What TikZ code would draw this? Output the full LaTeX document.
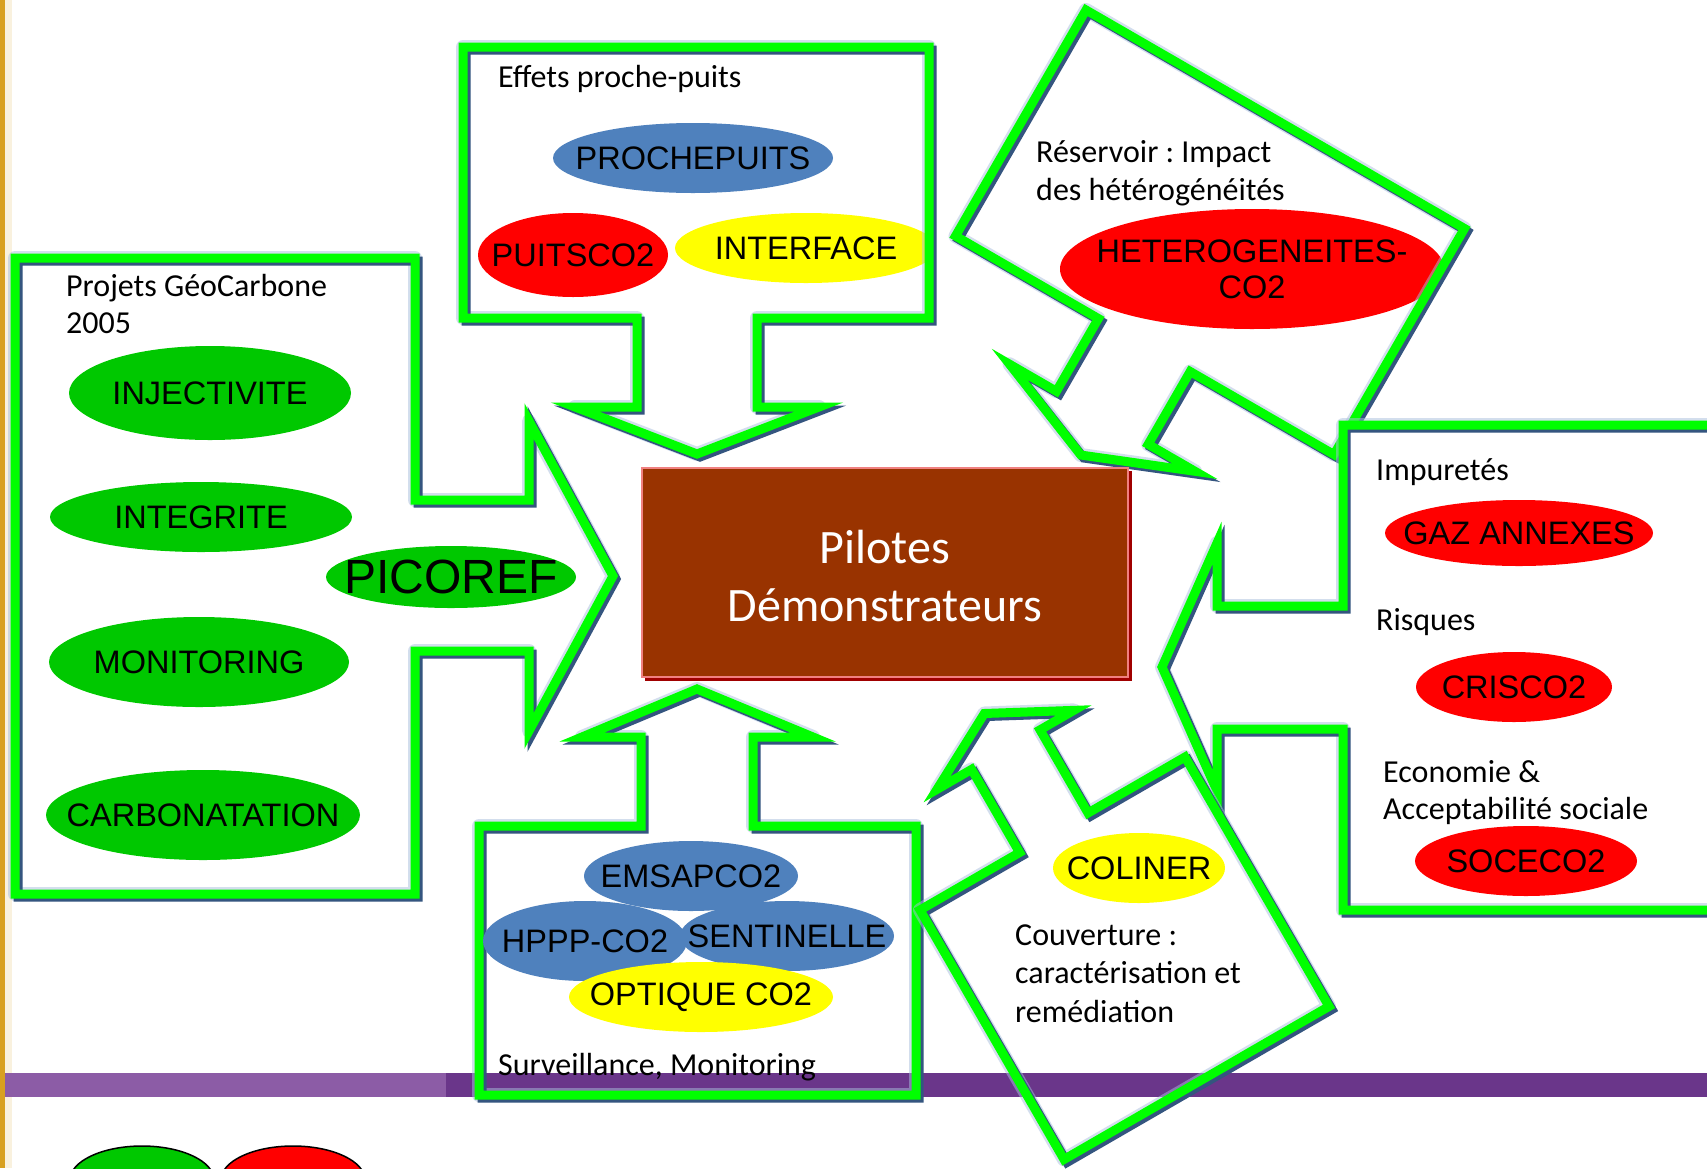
\documentclass[tikz,border=0pt]{standalone}
\usepackage{fontspec}
\setmainfont{Carlito}
\newfontfamily\arialf{Liberation Sans}
\usetikzlibrary{shapes.geometric}
\frenchspacing
\definecolor{gline}{HTML}{00FF00}
\definecolor{gshadow}{HTML}{34557F}
\definecolor{gglow}{HTML}{A9BFDD}
\definecolor{pgreen}{HTML}{00C800}
\definecolor{pred}{HTML}{FF0000}
\definecolor{pyellow}{HTML}{FFFF00}
\definecolor{pblue}{HTML}{4F81BD}
\definecolor{boxfill}{HTML}{993300}
\definecolor{boxlight}{HTML}{F08080}
\definecolor{boxdark}{HTML}{A00000}
\definecolor{goldbar}{HTML}{D8A020}
\definecolor{purpleA}{HTML}{8C5CA6}
\definecolor{purpleB}{HTML}{6A368A}

\newcommand{\LAPath}{(la1)--(la2)--(la3)--(la4)--(la5)--(la6)--(la7)--(la8)--(la9)--(la10)--(la11)--cycle}
\newcommand{\TAPath}{(ta1)--(ta2)--(ta3)--(ta4)--(ta5)--(ta6)--(ta7)--(ta8)--(ta9)--(ta10)--(ta11)--cycle}
\newcommand{\RAPath}{(ra1)--(ra2)--(ra3)--(ra4)--(ra5)--(ra6)--(ra7)--(ra8)--(ra9)--(ra10)--(ra11)--cycle}
\newcommand{\IAPath}{(ia1)--(ia2)--(ia3)--(ia4)--(ia5)--(ia6)--(ia7)--(ia8)--(ia9)--(ia10)--(ia11)--cycle}
\newcommand{\BAPath}{(ba1)--(ba2)--(ba3)--(ba4)--(ba5)--(ba6)--(ba7)--(ba8)--(ba9)--(ba10)--(ba11)--cycle}
\newcommand{\CAPath}{(ca1)--(ca2)--(ca3)--(ca4)--(ca5)--(ca6)--(ca7)--(ca8)--(ca9)--(ca10)--(ca11)--cycle}

\newcommand{\ellnode}[7]{%
  \node[ellbase, fill=#2, minimum width={2*#5}, minimum height={2*#6}] (#1) at (#3,#4) {};
  \node[elltext] (#1t) at (#1.center) {#7};}

\tikzset{
  glowline/.style={draw=gglow, line width=14pt, line join=round, opacity=0.5},
  shadowline/.style={draw=gshadow, line width=9pt, line join=miter, transform canvas={shift={(3pt,-3pt)}}},
  greenline/.style={draw=gline, line width=9pt, line join=miter},
  ellbase/.style={ellipse, draw=none, inner sep=0pt},
  elltext/.style={font=\arialf\fontsize{32.5}{36}\selectfont, align=center, inner sep=0pt, text=black},
  lbl/.style={anchor=base west, inner sep=0pt, font=\fontsize{32}{38}\selectfont, text=black},
}

\begin{document}
\begin{tikzpicture}[x=1pt,y=-1pt]
\useasboundingbox (0,0) rectangle (1707,1168);
\clip (0,0) rectangle (1707,1168);
\fill[white] (0,0) rectangle (1707,1168);
\fill[goldbar] (0,0) rectangle (5,1168);
\fill[goldbar!15] (5,0) rectangle (12,1168);

% ---------- coordinates ----------
\coordinate (la1) at (15,258);  \coordinate (la2) at (415,258);
\coordinate (la3) at (415,500); \coordinate (la4) at (529,500);
\coordinate (la5) at (529,421); \coordinate (la6) at (613,576);
\coordinate (la7) at (529,731); \coordinate (la8) at (529,651);
\coordinate (la9) at (415,651); \coordinate (la10) at (415,894);
\coordinate (la11) at (15,894);

\coordinate (ta1) at (463,47);  \coordinate (ta2) at (929,47);
\coordinate (ta3) at (929,318); \coordinate (ta4) at (757,318);
\coordinate (ta5) at (757,407); \coordinate (ta6) at (819,407);
\coordinate (ta7) at (697,454); \coordinate (ta8) at (575,407);
\coordinate (ta9) at (637,407); \coordinate (ta10) at (637,318);
\coordinate (ta11) at (463,318);

\begin{scope}[shift={(1086,10)},rotate=-30]
\coordinate (ra1) at (0,0);     \coordinate (ra2) at (437,0);
\coordinate (ra3) at (437,261); \coordinate (ra4) at (271,261);
\coordinate (ra5) at (271,345); \coordinate (ra6) at (325,345);
\coordinate (ra7) at (218,388); \coordinate (ra8) at (111,345);
\coordinate (ra9) at (165,345); \coordinate (ra10) at (165,261);
\coordinate (ra11) at (0,261);
\end{scope}

\coordinate (ia1) at (1343,425); \coordinate (ia2) at (1716,425);
\coordinate (ia3) at (1716,910); \coordinate (ia4) at (1343,910);
\coordinate (ia5) at (1343,729); \coordinate (ia6) at (1217,729);
\coordinate (ia7) at (1217,791); \coordinate (ia8) at (1162,667);
\coordinate (ia9) at (1217,543); \coordinate (ia10) at (1217,606);
\coordinate (ia11) at (1343,606);

\coordinate (ba1) at (479,826);  \coordinate (ba2) at (641,826);
\coordinate (ba3) at (641,737);  \coordinate (ba4) at (582,737);
\coordinate (ba5) at (697,689);  \coordinate (ba6) at (813,737);
\coordinate (ba7) at (753,737);  \coordinate (ba8) at (753,826);
\coordinate (ba9) at (916,826);  \coordinate (ba10) at (916,1095);
\coordinate (ba11) at (479,1095);

\begin{scope}[shift={(920,910)},rotate=30]
\coordinate (ca1) at (0,0);      \coordinate (ca2) at (115,0);
\coordinate (ca3) at (115,-96);  \coordinate (ca4) at (75,-96);
\coordinate (ca5) at (154,-138); \coordinate (ca6) at (233,-96);
\coordinate (ca7) at (194,-96);  \coordinate (ca8) at (194,0);
\coordinate (ca9) at (306,0);    \coordinate (ca10) at (306,288);
\coordinate (ca11) at (0,288);
\end{scope}

% ---------- left arrow ----------
\fill[white] \LAPath;
\draw[glowline] \LAPath;
\draw[shadowline] \LAPath;
\draw[greenline] \LAPath;
\node[lbl] (l1a) at (66,296) {Projets GéoCarbone};
\node[lbl] (l1b) at (66,333) {2005};
\ellnode{inj}{pgreen}{210}{393}{141}{47}{INJECTIVITE}
\ellnode{integ}{pgreen}{201}{517}{151}{35}{INTEGRITE}
\ellnode{moni}{pgreen}{199}{662}{150}{45}{MONITORING}
\ellnode{carb}{pgreen}{203}{815}{157}{45}{CARBONATATION}
\node[ellbase, fill=pgreen, minimum width=250pt, minimum height=62pt] (pico) at (451,577) {};
\node[elltext, font=\arialf\fontsize{48}{50}\selectfont] (picot) at (pico.center) {PICOREF};

% ---------- top arrow ----------
\fill[white] \TAPath;
\begin{scope}
\clip \TAPath;
\ellnode{proche}{pblue}{693}{158}{140}{35}{PROCHEPUITS}
\ellnode{puits}{pred}{573}{255}{95}{42}{PUITSCO2}
\ellnode{inter}{pyellow}{806}{248}{131}{35}{INTERFACE}
\end{scope}
\draw[glowline] \TAPath;
\draw[shadowline] \TAPath;
\draw[greenline] \TAPath;
\node[lbl] (l2) at (498,87) {Effets proche-puits};

% ---------- reservoir arrow ----------
\fill[white] \RAPath;
\begin{scope}
\clip \RAPath;
\ellnode{hetero}{pred}{1252}{269}{192}{60}{HETEROGENEITES-\\CO2}
\end{scope}
\draw[glowline] \RAPath;
\draw[shadowline] \RAPath;
\draw[greenline] \RAPath;
\node[lbl] (l3a) at (1036,162) {Réservoir : Impact};
\node[lbl] (l3b) at (1036,200) {des hétérogénéités};

% ---------- impuretes arrow ----------
\fill[white] \IAPath;
\draw[glowline] \IAPath;
\draw[shadowline] \IAPath;
\draw[greenline] \IAPath;
\node[lbl] (l4a) at (1376,480) {Impuretés};
\node[lbl] (l4b) at (1376,630) {Risques};
\node[lbl] (l4c) at (1383,782) {Economie \&};
\node[lbl] (l4d) at (1383,819) {Acceptabilité sociale};
\ellnode{gaz}{pred}{1519}{533}{134}{33}{GAZ ANNEXES}
\ellnode{crisco}{pred}{1514}{687}{98}{35}{CRISCO2}
\ellnode{soceco}{pred}{1526}{861}{111}{35}{SOCECO2}

% ---------- bottom arrows (fills), bar, outlines ----------
\fill[white] \BAPath;
\fill[white] \CAPath;
\fill[purpleA] (5,1073) rectangle (446,1097);
\fill[purpleB] (446,1073) rectangle (1707,1097);

\draw[glowline] \BAPath;
\draw[shadowline] \BAPath;
\draw[greenline] \BAPath;
\draw[glowline] \CAPath;
\draw[shadowline] \CAPath;
\draw[greenline] \CAPath;

\ellnode{emsap}{pblue}{691}{876}{107}{35}{EMSAPCO2}
\ellnode{hppp}{pblue}{585}{941}{102}{40}{HPPP-CO2}
\ellnode{senti}{pblue}{787}{936}{107}{35}{SENTINELLE}
\ellnode{optique}{pyellow}{701}{997}{132}{35}{OPTIQUE CO2}
\node[lbl] (l5) at (498,1075) {Surveillance, Monitoring};

\ellnode{coliner}{pyellow}{1139}{868}{86}{35}{COLINER}
\node[lbl] (l6a) at (1015,945) {Couverture :};
\node[lbl] (l6b) at (1015,983) {caractérisation et};
\node[lbl] (l6c) at (1015,1022) {remédiation};

% ---------- centre box ----------
\fill[boxdark] (645,471) rectangle (1132,681);
\node[draw=boxlight, line width=1.5pt, fill=boxfill, minimum width=486pt, minimum height=209pt,
      inner sep=0pt, text=white, align=center, font=\fontsize{48}{58}\selectfont]
      (pilot) at (885,572.5) {};
\node[text=white, align=center, inner sep=0pt, font=\fontsize{48}{58}\selectfont]
      (pilott) at ([yshift=-3pt]pilot.center) {Pilotes\\Démonstrateurs};

% ---------- legend (cut off) ----------
\node[ellbase, fill=pgreen, draw=black, line width=1.5pt, minimum width=144pt, minimum height=68pt] (leg1) at (142,1180) {};
\node[ellbase, fill=pred, draw=black, line width=1.5pt, minimum width=144pt, minimum height=68pt] (leg2) at (293,1180) {};
\end{tikzpicture}
\end{document}
